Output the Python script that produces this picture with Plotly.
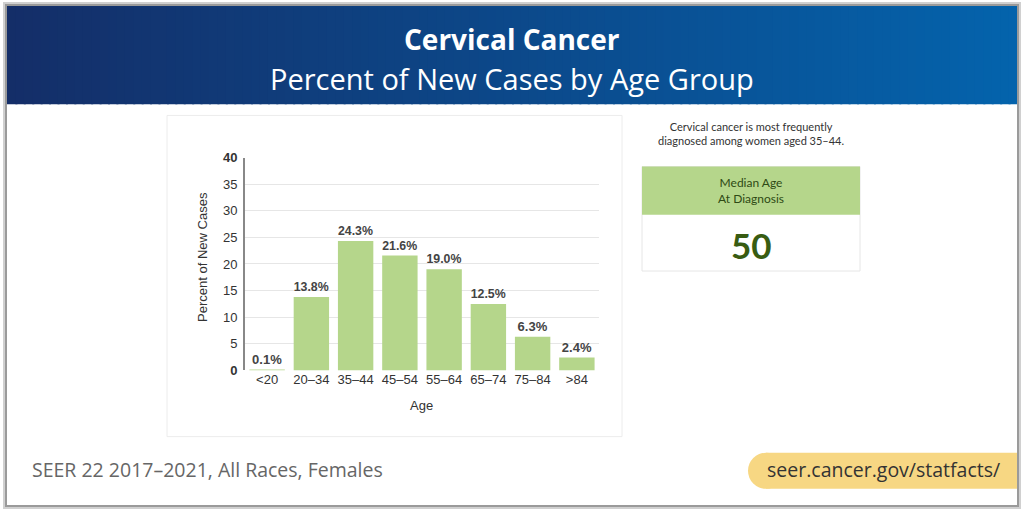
import plotly.graph_objects as go

ages = ["<20", "20–34", "35–44", "45–54", "55–64", "65–74", "75–84", ">84"]
pct = [0.1, 13.8, 24.3, 21.6, 19.0, 12.5, 6.3, 2.4]
yticks = [0, 5, 10, 15, 20, 25, 30, 35, 40]
ytick_text = ["<b>0</b>", "5", "10", "15", "20", "25", "30", "35", "<b>40</b>"]

title = "Cervical Cancer"
subtitle = "Percent of New Cases by Age Group"
note = "Cervical cancer is most frequently<br>diagnosed among women aged 35–44."
median_label = "Median Age<br>At Diagnosis"
median_age = "50"
source = "SEER 22 2017–2021, All Races, Females"
url = "seer.cancer.gov/statfacts/"

W, H = 1024, 512
BAR = "#b5d68b"
# the photographed page comes out squeezed vertically (top 8px, scale ~0.967);
# layout positions below are in picture pixels and get mapped back
Y_OFF, Y_SCALE = 8, 0.967


def px(x):
    return x / W


def py(y):
    return 1 - (y - Y_OFF) / Y_SCALE / H


def rect(x0, y0, x1, y1, fill, line=None, lw=0):
    return dict(type="rect", xref="paper", yref="paper",
                x0=px(x0), x1=px(x1), y0=py(y1), y1=py(y0),
                fillcolor=fill, line=dict(color=line or fill, width=lw),
                layer="below")


def mix(c0, c1, t):
    return "rgb(%d,%d,%d)" % tuple(round(a + (b - a) * t) for a, b in zip(c0, c1))


shapes = []
# frame shadow
shapes.append(rect(3, 3, 1021, 508, "#d0d0d0"))
shapes.append(rect(5, 5, 1019, 506, "#9a9a9a"))
shapes.append(rect(7, 7, 1017, 504, "white"))

# header gradient
left, right = (20, 46, 104), (4, 99, 172)
n = 120
for i in range(n):
    xa = 7 + (1017 - 7) * i / n
    xb = 7 + (1017 - 7) * (i + 1) / n + 2
    shapes.append(rect(xa, 7, min(xb, 1017), 105, mix(left, right, i / (n - 1))))

# chart card
shapes.append(rect(167, 116, 622, 436, "white", "#ececec", 1))
# median box
shapes.append(rect(642, 167, 860, 271, "white", "#e6e6e6", 1))
shapes.append(rect(642, 167, 860, 215, BAR))
# url pill
shapes.append(dict(type="circle", xref="paper", yref="paper",
                   x0=px(748), x1=px(784), y0=py(488), y1=py(452),
                   fillcolor="#f7d783", line=dict(width=0), layer="below"))
shapes.append(rect(766, 452, 1017, 488, "#f7d783"))

fig = go.Figure()
fig.add_trace(go.Bar(
    x=ages, y=pct, marker=dict(color=BAR, line=dict(width=0)),
    texttemplate="<b>%{y:.1f}%</b>", textposition="outside",
    textfont=dict(family="Liberation Sans, Arial", size=13, color="#444"),
    cliponaxis=False, hoverinfo="skip",
))

annotations = [
    dict(x=0.5, y=py(40), text="<b>" + title + "</b>",
         font=dict(family="Open Sans", size=28, color="white")),
    dict(x=0.5, y=py(79), text=subtitle,
         font=dict(family="Open Sans", size=29, color="white")),
    dict(x=px(203), y=py(257), text="Percent of New Cases", textangle=-90,
         font=dict(family="Liberation Sans, Arial", size=13, color="#333")),
    dict(x=px(421), y=py(405), text="Age",
         font=dict(family="Liberation Sans, Arial", size=13, color="#333")),
    dict(x=px(751), y=py(134), text=note,
         font=dict(family="Lato", size=11, color="#333")),
    dict(x=px(751), y=py(191), text=median_label,
         font=dict(family="Lato", size=12, color="#2e4a14")),
    dict(x=px(751), y=py(245), text="<b>" + median_age + "</b>",
         font=dict(family="Lato", size=35, color="#385c12")),
    dict(x=px(30), y=py(469), text=source, xanchor="left",
         font=dict(family="Open Sans", size=19.5, color="#666")),
    dict(x=px(883), y=py(469), text=url,
         font=dict(family="Open Sans", size=19.5, color="#333")),
]
for a in annotations:
    a.update(xref="paper", yref="paper", showarrow=False)
    a.setdefault("xanchor", "center")
    a.setdefault("yanchor", "middle")

fig.update_layout(
    width=W, height=H, margin=dict(l=0, r=0, t=0, b=0),
    paper_bgcolor="white", plot_bgcolor="rgba(0,0,0,0)",
    showlegend=False, bargap=0.2,
    shapes=shapes, annotations=annotations,
    xaxis=dict(domain=[px(245), px(599)], showgrid=False, showline=False,
               ticks="", tickfont=dict(family="Liberation Sans, Arial", size=13, color="#333"),
               fixedrange=True),
    yaxis=dict(domain=[py(370), py(158)], range=[0, 40], tickvals=yticks, ticktext=ytick_text,
               showgrid=True, gridcolor="#e6e6e6", gridwidth=1, zeroline=False,
               showline=True, linecolor="#888", linewidth=2, ticks="",
               ticklabelstandoff=3,
               tickfont=dict(family="Liberation Sans, Arial", size=13, color="#333"),
               fixedrange=True),
)

# pin the 1024x512 figure to the window corner (page margins would shift it)
pin = ("document.body.style.margin='0';"
       "var g=document.querySelector('.plotly-graph-div');"
       "g.style.position='fixed';g.style.top='0';g.style.left='0';")
fig.write_html("out.html", config={"displayModeBar": False}, post_script=pin)
